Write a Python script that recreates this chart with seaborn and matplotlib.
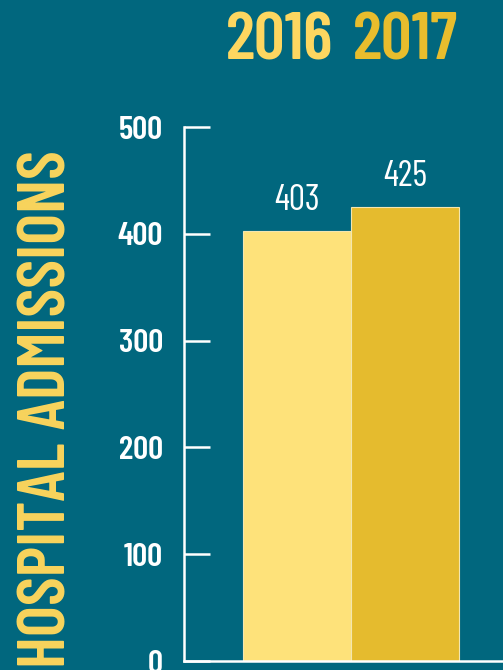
import matplotlib
matplotlib.use("Agg")
import os
import matplotlib.pyplot as plt
from matplotlib import font_manager
from matplotlib.font_manager import FontProperties
import seaborn as sns

# chart data
years = ["2016", "2017"]
admissions = [403, 425]
yticks = [0, 100, 200, 300, 400, 500]
ylabel = "HOSPITAL ADMISSIONS"

bg = "#01677e"
bar_colors = ["#fee27a", "#e5bb2e"]
title_colors = ["#fdd660", "#e8bd2d"]
label_color = "#f9d45c"

sns.set_theme(style="white")
plt.rcParams["font.family"] = ["DejaVu Sans"]


def find_font(filename):
    for f in font_manager.fontManager.ttflist:
        if os.path.basename(f.fname) == filename:
            return f.fname
    return None


def fp(filename, size):
    path = find_font(filename)
    if path:
        return FontProperties(fname=path, size=size)
    return FontProperties(family="DejaVu Sans", size=size * 0.8)


fig = plt.figure(figsize=(5.03, 6.70), dpi=100, facecolor=bg)
ax = fig.add_axes([0.3658, 0.0134, 0.6342, 0.797])
ax.set_facecolor(bg)

sns.barplot(x=years, y=admissions, hue=years, palette=bar_colors, width=1.0,
            saturation=1, edgecolor="#f3e6b0", linewidth=0.8, legend=False, ax=ax)

ax.set_ylim(0, 500)
ax.set_xlim(-1.046, 1.907)
ax.set_yticks(yticks)
ax.set_xticks([])
ax.tick_params(axis="y", left=True, direction="in", length=19, width=1.8,
               color="white", labelcolor="white", pad=15)
tick_fp = fp("BarlowCondensed-SemiBold.ttf", 24)
for lbl in ax.get_yticklabels():
    lbl.set_fontproperties(tick_fp)
for side in ["top", "right"]:
    ax.spines[side].set_visible(False)
for side in ["left", "bottom"]:
    ax.spines[side].set_color("white")
    ax.spines[side].set_linewidth(1.8)
ax.set_xlabel("")
ax.set_ylabel("")

value_fp = fp("BarlowCondensed-Regular.ttf", 26)
for i, v in enumerate(admissions):
    ax.annotate(str(v), (i, v), xytext=(0, 10), textcoords="offset points",
                ha="center", va="bottom", color="white", fontproperties=value_fp)

title_fp = fp("BarlowCondensed-SemiBold.ttf", 49)
fig.text(280 / 503, 1 - 42 / 670, years[0], color=title_colors[0],
         fontproperties=title_fp, ha="center", va="center")
fig.text(405 / 503, 1 - 42 / 670, years[1], color=title_colors[1],
         fontproperties=title_fp, ha="center", va="center")

ylab_fp = fp("BarlowCondensed-SemiBold.ttf", 48)
fig.text(49 / 503, 1 - 409 / 670, ylabel, color=label_color,
         fontproperties=ylab_fp, rotation=90, ha="center", va="center")

fig.savefig("out.png", dpi=100, facecolor=bg)
